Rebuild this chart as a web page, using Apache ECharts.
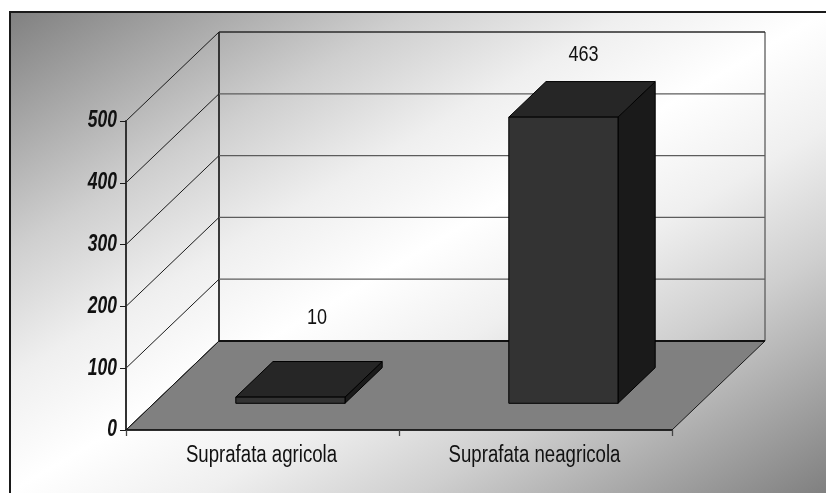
<!DOCTYPE html>
<html>
<head>
<meta charset="utf-8">
<title>Suprafata</title>
<script src="https://cdn.jsdelivr.net/npm/echarts@6/dist/echarts.min.js"></script>
<style>
  html, body { margin: 0; padding: 0; background: #fff; }
  #chart { width: 826px; height: 493px; }
</style>
</head>
<body>
<div id="chart"></div>
<script>
// Chart data
const categories = ['Suprafata agricola', 'Suprafata neagricola'];
const areaValues = [10, 463];
const axisTicks = [0, 100, 200, 300, 400, 500];
const axisMax = 500;

// Oblique projection of the floor: how far its back edge is shifted from the front edge
const DEPTH_X = 93;
const DEPTH_Y = -89;
// Bars occupy this slice of the floor depth and this share of a category band
const BAR_DEPTH_START = 0.3;
const BAR_DEPTH_END = 0.7;
const BAR_WIDTH_SHARE = 0.4;
// Value labels sit above the top face of each bar: [dx, dy] from the centre of its back edge
const valueLabelNudge = [[8, -44], [1.5, -27]];

const FONT = '"Liberation Sans", Arial, sans-serif';

const chart = echarts.init(document.getElementById('chart'), null, { renderer: 'canvas' });

const shift = (p, f) => [p[0] + DEPTH_X * f, p[1] + DEPTH_Y * f];

// Horizontally condensed text, anchored at its own origin so the squeeze keeps its position
function condensedText(text, x, y, font, squeeze, align) {
  return {
    type: 'text',
    x: x,
    y: y,
    scaleX: squeeze,
    style: { x: 0, y: 0, text: text, font: font, fill: '#111', align: align, verticalAlign: 'middle' }
  };
}

// Back wall and side wall rules plus the value label, one per axis tick
function renderWallRule(params, api) {
  const cs = params.coordSys;
  const value = api.value(0);
  const frontLeft = [cs.x, api.coord([0, value])[1]];
  const backLeft = shift(frontLeft, 1);
  const backRight = [cs.x + cs.width + DEPTH_X, backLeft[1]];
  const isFloor = value === 0;
  const isTop = value === axisMax;
  return {
    type: 'group',
    children: [
      {
        type: 'line',
        shape: { x1: frontLeft[0], y1: frontLeft[1], x2: backLeft[0], y2: backLeft[1] },
        style: { stroke: '#1a1a1a', lineWidth: 1 }
      },
      {
        type: 'line',
        shape: { x1: backLeft[0], y1: backLeft[1], x2: backRight[0], y2: backRight[1] },
        style: { stroke: isFloor ? '#111111' : isTop ? '#2a2a2a' : '#5c5c5c', lineWidth: isFloor ? 2 : 1.3 }
      },
      condensedText(String(value), cs.x - 9, frontLeft[1], 'italic bold 23px ' + FONT, 0.76, 'right')
    ]
  };
}

// Floor parallelogram plus the two vertical edges of the back wall
function renderFloor(params, api) {
  const cs = params.coordSys;
  const y0 = api.coord([0, 0])[1];
  const yTop = api.coord([0, axisMax])[1];
  const a = [cs.x, y0];
  const b = [cs.x + cs.width, y0];
  const c = shift(b, 1);
  const d = shift(a, 1);
  return {
    type: 'group',
    children: [
      {
        type: 'polygon',
        shape: { points: [a, b, c, d] },
        style: { fill: '#808080', stroke: '#1a1a1a', lineWidth: 1 }
      },
      {
        type: 'line',
        shape: { x1: d[0], y1: yTop + DEPTH_Y, x2: d[0], y2: d[1] },
        style: { stroke: '#262626', lineWidth: 1.8 }
      },
      {
        type: 'line',
        shape: { x1: c[0], y1: yTop + DEPTH_Y, x2: c[0], y2: c[1] },
        style: { stroke: '#5c5c5c', lineWidth: 1.3 }
      }
    ]
  };
}

// Box-shaped column: front, top and side faces with its value above
function renderBox(params, api) {
  const i = api.value(0);
  const base = api.coord([i, 0]);
  const top = api.coord([i, api.value(1)]);
  const half = api.size([1, 0])[0] * BAR_WIDTH_SHARE / 2;
  const fl = shift([base[0] - half, base[1]], BAR_DEPTH_START);
  const fr = shift([base[0] + half, base[1]], BAR_DEPTH_START);
  const tl = shift([base[0] - half, top[1]], BAR_DEPTH_START);
  const tr = shift([base[0] + half, top[1]], BAR_DEPTH_START);
  const d = BAR_DEPTH_END - BAR_DEPTH_START;
  const edge = { stroke: '#000', lineWidth: 1, lineJoin: 'round' };
  const nudge = valueLabelNudge[i];
  return {
    type: 'group',
    children: [
      {
        type: 'polygon',
        shape: { points: [fr, tr, shift(tr, d), shift(fr, d)] },
        style: Object.assign({ fill: '#1a1a1a' }, edge)
      },
      {
        type: 'polygon',
        shape: { points: [tl, tr, shift(tr, d), shift(tl, d)] },
        style: Object.assign({ fill: '#262626' }, edge)
      },
      {
        type: 'polygon',
        shape: { points: [fl, fr, tr, tl] },
        style: Object.assign({ fill: '#333333' }, edge)
      },
      condensedText(
        String(api.value(1)),
        (tl[0] + shift(tr, d)[0]) / 2 + nudge[0],
        shift(tr, d)[1] + nudge[1],
        '22px ' + FONT, 0.82, 'center'
      )
    ]
  };
}

// Category names under the floor's front edge
function renderCategoryLabel(params, api) {
  const i = api.value(0);
  const p = api.coord([i, 0]);
  return condensedText(categories[i], p[0] - 1, p[1] + 26, '23px ' + FONT, 0.81, 'center');
}

chart.setOption({
  animation: false,
  backgroundColor: '#ffffff',
  // Panel with a double diagonal shade: grey in two corners, white across the middle
  graphic: [{
    type: 'rect',
    z: -10,
    silent: true,
    shape: { x: 10, y: 12, width: 830, height: 495 },
    style: {
      fill: new echarts.graphic.LinearGradient(208, -105, 628, 609, [
        { offset: 0, color: '#808080' },
        { offset: 0.12, color: '#a6a6a6' },
        { offset: 0.25, color: '#cfcfcf' },
        { offset: 0.38, color: '#efefef' },
        { offset: 0.5, color: '#ffffff' },
        { offset: 0.62, color: '#efefef' },
        { offset: 0.75, color: '#cfcfcf' },
        { offset: 0.88, color: '#a6a6a6' },
        { offset: 1, color: '#808080' }
      ], true),
      stroke: '#1a1a1a',
      lineWidth: 2
    }
  }],
  grid: { left: 126, right: 154, top: 121, bottom: 63, containLabel: false },
  xAxis: {
    type: 'category',
    data: categories,
    z: 6,
    axisLine: { lineStyle: { color: '#111', width: 1.5 } },
    axisTick: { show: true, alignWithLabel: false, length: 6, lineStyle: { color: '#444', width: 1.3 } },
    axisLabel: { show: false },
    splitLine: { show: false }
  },
  yAxis: {
    type: 'value',
    min: 0,
    max: axisMax,
    interval: 100,
    z: 6,
    axisLine: { show: true, lineStyle: { color: '#333333', width: 2 } },
    axisTick: { show: true, length: 6, lineStyle: { color: '#1a1a1a', width: 1 } },
    axisLabel: { show: false },
    splitLine: { show: false }
  },
  series: [
    {
      type: 'custom',
      name: 'floor',
      coordinateSystem: 'cartesian2d',
      renderItem: renderFloor,
      data: [[0]],
      encode: { x: -1, y: -1 },
      silent: true,
      clip: false,
      z: 1
    },
    {
      type: 'custom',
      name: 'walls',
      coordinateSystem: 'cartesian2d',
      renderItem: renderWallRule,
      data: axisTicks.map(v => [v]),
      encode: { y: 0, x: -1 },
      silent: true,
      clip: false,
      z: 2
    },
    {
      type: 'custom',
      name: 'categories',
      coordinateSystem: 'cartesian2d',
      renderItem: renderCategoryLabel,
      data: categories.map((c, i) => [i]),
      encode: { x: 0, y: -1 },
      silent: true,
      clip: false,
      z: 2
    },
    {
      type: 'custom',
      name: 'area',
      coordinateSystem: 'cartesian2d',
      renderItem: renderBox,
      data: areaValues.map((v, i) => [i, v]),
      encode: { x: 0, y: 1 },
      clip: false,
      z: 3
    }
  ]
});
</script>
</body>
</html>
